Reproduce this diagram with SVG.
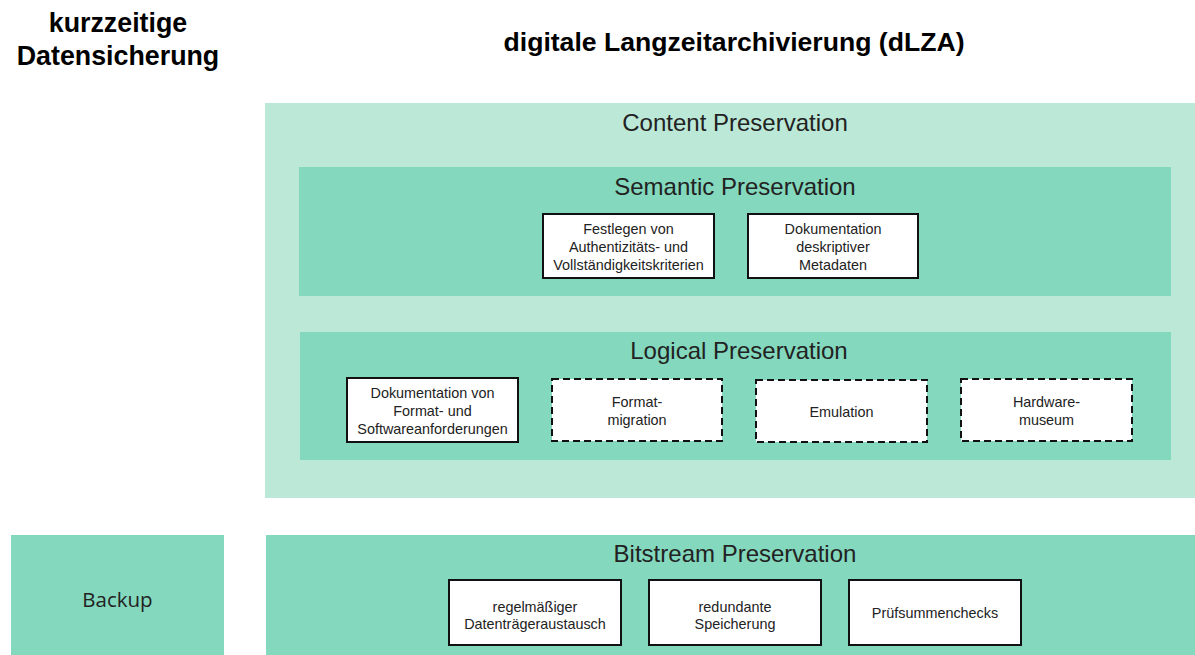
<svg xmlns="http://www.w3.org/2000/svg" width="1195" height="655" viewBox="0 0 1195 655">
<style>
.h{font-family:"Liberation Sans",Arial,sans-serif;font-weight:bold;fill:#000;text-anchor:middle}
.t{font-family:"Liberation Sans",Arial,sans-serif;fill:#222;text-anchor:middle}
.big{font-size:24px}
.sm{font-size:14.4px}
.outer{fill:#bce8d8}
.inner{fill:#83d8bd}
.box{fill:#fff;stroke:#111;stroke-width:2}
.dash{fill:#fff;stroke:#111;stroke-width:2;stroke-dasharray:7,4}
</style>
<rect width="1195" height="655" fill="#fff"/>
<g id="titles">
<text class="h" x="118" y="32" font-size="26.8">kurzzeitige</text>
<text class="h" x="118" y="65" font-size="26.8">Datensicherung</text>
<text class="h" x="734" y="51" font-size="26.6">digitale Langzeitarchivierung (dLZA)</text>
</g>
<g id="content-preservation">
<rect class="outer" x="265" y="103" width="930" height="395"/>
<text class="t big" x="735" y="131">Content Preservation</text>
</g>
<g id="semantic-preservation">
<rect class="inner" x="299" y="167" width="872" height="129"/>
<text class="t big" x="735" y="195">Semantic Preservation</text>
</g>
<g id="festlegen">
<rect class="box" x="543" y="214" width="171" height="64"/>
<text class="t sm" x="628.5" y="234">Festlegen von</text>
<text class="t sm" x="628.5" y="252">Authentizitäts- und</text>
<text class="t sm" x="628.5" y="270">Vollständigkeitskriterien</text>
</g>
<g id="dokumentation-metadaten">
<rect class="box" x="748" y="214" width="170" height="64"/>
<text class="t sm" x="833" y="234">Dokumentation</text>
<text class="t sm" x="833" y="252">deskriptiver</text>
<text class="t sm" x="833" y="270">Metadaten</text>
</g>
<g id="logical-preservation">
<rect class="inner" x="300" y="332" width="871" height="128"/>
<text class="t big" x="739" y="359">Logical Preservation</text>
</g>
<g id="dokumentation-format">
<rect class="box" x="347" y="378" width="171" height="64"/>
<text class="t sm" x="432.5" y="398">Dokumentation von</text>
<text class="t sm" x="432.5" y="416">Format- und</text>
<text class="t sm" x="432.5" y="434">Softwareanforderungen</text>
</g>
<g id="formatmigration">
<rect class="dash" x="552" y="379" width="170" height="62"/>
<text class="t sm" x="637" y="407">Format-</text>
<text class="t sm" x="637" y="425">migration</text>
</g>
<g id="emulation">
<rect class="dash" x="756" y="380" width="171" height="62"/>
<text class="t sm" x="841.5" y="417">Emulation</text>
</g>
<g id="hardwaremuseum">
<rect class="dash" x="961" y="379" width="171" height="62"/>
<text class="t sm" x="1046.5" y="407">Hardware-</text>
<text class="t sm" x="1046.5" y="425">museum</text>
</g>
<g id="backup">
<rect class="inner" x="11" y="535" width="213" height="120"/>
<text x="117.5" y="607" font-family="'Open Sans',sans-serif" font-size="20.5" fill="#222" text-anchor="middle">Backup</text>
</g>
<g id="bitstream-preservation">
<rect class="inner" x="266" y="535" width="929" height="120"/>
<text class="t big" x="735" y="562">Bitstream Preservation</text>
</g>
<g id="datentraeger">
<rect class="box" x="449" y="580" width="172" height="65"/>
<text class="t sm" x="535" y="612">regelmäßiger</text>
<text class="t sm" x="535" y="629">Datenträgeraustausch</text>
</g>
<g id="redundant">
<rect class="box" x="649" y="580" width="172" height="65"/>
<text class="t sm" x="735" y="612">redundante</text>
<text class="t sm" x="735" y="629">Speicherung</text>
</g>
<g id="pruefsummen">
<rect class="box" x="849" y="580" width="172" height="65"/>
<text class="t sm" x="935" y="618">Prüfsummenchecks</text>
</g>
<g id="connectors"/>
</svg>
